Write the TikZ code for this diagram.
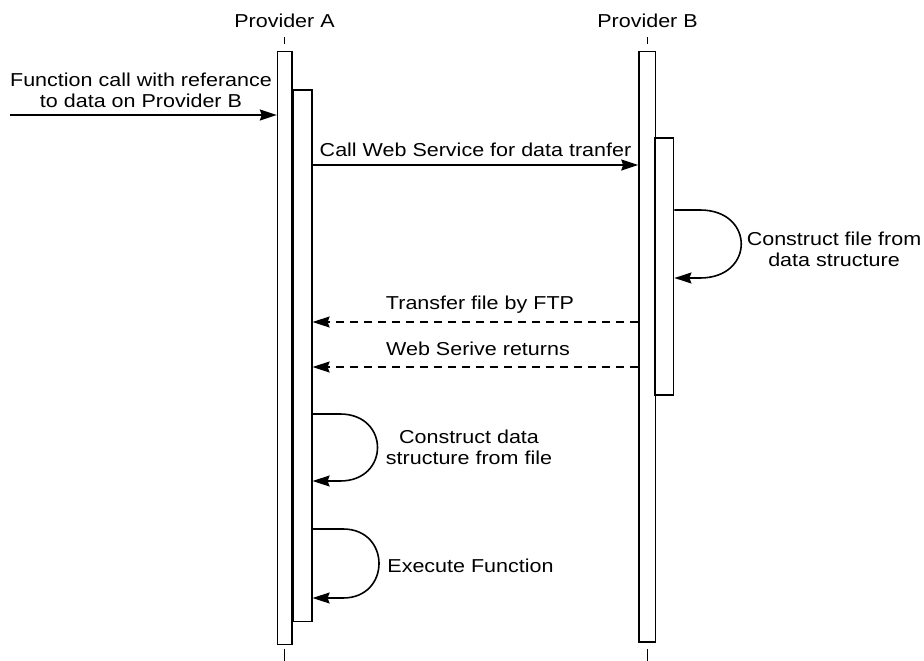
\documentclass[tikz,border=0pt]{standalone}
\usepackage{fontspec}
\setmainfont{Liberation Sans}[FakeStretch=1.15]
\usetikzlibrary{arrows.meta}
\begin{document}
\begin{tikzpicture}[x=1pt,y=-1pt,
  every node/.style={font=\fontsize{18.7}{21}\selectfont},
  lifebox/.style={draw, line width=1.6pt, fill=white, rectangle, inner sep=0pt},
  msg/.style={line width=1.6pt, -{Stealth[length=17pt,width=11pt,inset=2pt]}},
  ret/.style={msg, dash pattern=on 8pt off 6pt},
  tick/.style={line width=1pt},
  lbl/.style={align=center, inner sep=0pt}]
\useasboundingbox (0,0) rectangle (924,661);

% lifeline activation boxes
\node[lifebox, minimum width=14.6pt, minimum height=593pt] (Aout) at (284.9,348) {};
\node[lifebox, minimum width=19pt, minimum height=531.5pt] (Ain) at (302.3,355.8) {};
\node[lifebox, minimum width=16.6pt, minimum height=590.5pt] (Bout) at (647.3,346.8) {};
\node[lifebox, minimum width=18.4pt, minimum height=257pt] (Bin) at (664.4,266.5) {};

% participant labels
\node[lbl] (PA) at (284.5,20.5) {Provider A};
\node[lbl] (PB) at (647.5,20.5) {Provider B};

% lifeline ticks
\draw[tick] ([yshift=7pt]Aout.north) -- ([yshift=14pt]Aout.north);
\draw[tick] ([yshift=7pt]Bout.north) -- ([yshift=14pt]Bout.north);
\draw[tick] ([yshift=-3.5pt]Aout.south) -- ([yshift=-15.5pt]Aout.south);
\draw[tick] ([yshift=-6pt]Bout.south) -- ([yshift=-18pt]Bout.south);

% incoming call
\coordinate (src) at (10,115);
\draw[msg] (src) -- (Aout.west |- src);
\node[lbl] (Lin) at (141,90) {Function call with referance\\to data on Provider B};

% call web service
\coordinate (c1) at (0,165);
\draw[msg] (Ain.east |- c1) -- (Bout.west |- c1);
\node[lbl] (Lc1) at (475.5,149.5) {Call Web Service for data tranfer};

% self call on B
\coordinate (b1) at (700,210);
\coordinate (b2) at (700,278);
\draw[msg] (Bin.east |- b1) -- (b1) .. controls (755,210) and (755,278) .. (b2) -- (Bin.east |- b2);
\node[lbl] (Lb) at (834,249) {Construct file from\\data structure};

% returns
\coordinate (r1) at (0,322);
\draw[ret] (Bout.west |- r1) -- (Ain.east |- r1);
\node[lbl] (Lr1) at (480,305) {Transfer file by FTP};
\coordinate (r2) at (0,367);
\draw[ret] (Bout.west |- r2) -- (Ain.east |- r2);
\node[lbl] (Lr2) at (478,349) {Web Serive returns};

% self calls on A
\coordinate (a1) at (340,414);
\coordinate (a2) at (340,481);
\draw[msg] (Ain.east |- a1) -- (a1) .. controls (390,414) and (390,481) .. (a2) -- (Ain.east |- a2);
\node[lbl] (La1) at (469,447.5) {Construct data\\structure from file};

\coordinate (a3) at (343,529);
\coordinate (a4) at (343,598);
\draw[msg] (Ain.east |- a3) -- (a3) .. controls (391,529) and (391,598) .. (a4) -- (Ain.east |- a4);
\node[lbl] (La2) at (470.5,566) {Execute Function};
\end{tikzpicture}
\end{document}
